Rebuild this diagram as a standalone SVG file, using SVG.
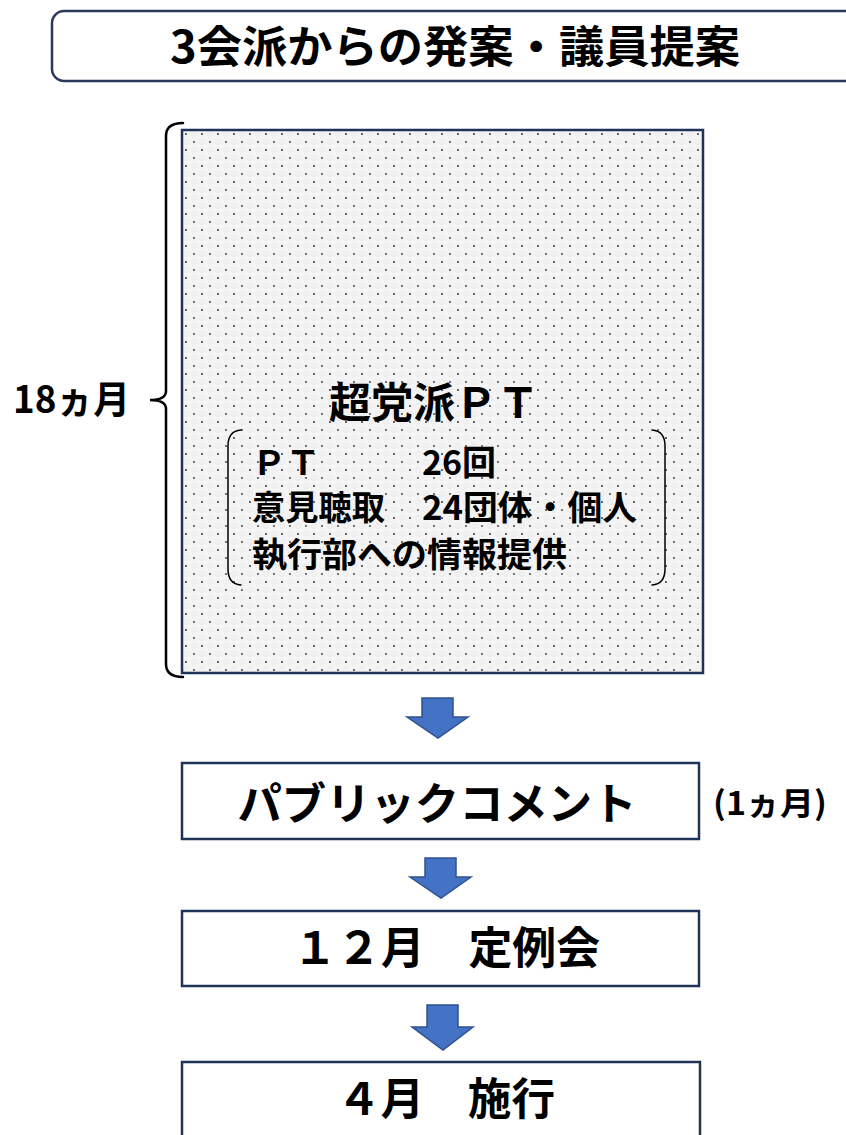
<svg xmlns="http://www.w3.org/2000/svg" width="846" height="1135" viewBox="0 0 846 1135">
<style>
text{font-family:"Noto Sans CJK JP","Noto Sans",sans-serif;font-weight:700;fill:#000}
.box{fill:#fff;stroke:#1F3357;stroke-width:2.5}
.arrow{fill:#4472C4;stroke:#2F528F;stroke-width:1.5}
.brk{fill:none;stroke:#000;stroke-linecap:round}
</style>
<defs>
<pattern id="dots" width="16" height="16" patternUnits="userSpaceOnUse" x="182" y="130">
<rect width="16" height="16" fill="#f4f4f4"/>
<circle cx="4" cy="4" r="1.1" fill="#444"/>
<circle cx="12" cy="12" r="1.1" fill="#555"/>
<circle cx="12" cy="4" r="2.4" fill="none" stroke="#e2e2e2" stroke-width="0.7"/>
<circle cx="4" cy="12" r="2.4" fill="none" stroke="#e2e2e2" stroke-width="0.7"/>
</pattern>
</defs>

<g id="title">
<rect x="52" y="11" width="830" height="70" rx="12" fill="#fff" stroke="#2B3A5C" stroke-width="2.5"/>
<text x="455" y="63" font-size="44" text-anchor="middle" textLength="570" lengthAdjust="spacingAndGlyphs">3会派からの発案・議員提案</text>
</g>

<g id="duration">
<path class="brk" stroke-width="2.5" d="M183,123 Q166,123 166,136 L166,391 Q166,400 150,400 Q166,400 166,409 L166,664 Q166,677 183,677"/>
<text x="13" y="413" font-size="38" textLength="117" lengthAdjust="spacingAndGlyphs">18ヵ月</text>
</g>

<g id="pt">
<rect x="182" y="130" width="521" height="543" fill="url(#dots)" stroke="#1F3357" stroke-width="2.5"/>
<text x="434" y="418" font-size="42" text-anchor="middle" textLength="210" lengthAdjust="spacingAndGlyphs">超党派ＰＴ</text>
<path class="brk" stroke-width="1.5" d="M241,430 Q228,431 228,446 L228,569 Q228,584 241,585"/>
<path class="brk" stroke-width="1.5" d="M652,430 Q665,431 665,446 L665,569 Q665,584 652,585"/>
<text x="252" y="475" font-size="34">ＰＴ</text>
<text x="422" y="475" font-size="34">26回</text>
<text x="252" y="520" font-size="34" textLength="133" lengthAdjust="spacingAndGlyphs">意見聴取</text>
<text x="422" y="520" font-size="34" textLength="215" lengthAdjust="spacingAndGlyphs">24団体・個人</text>
<text x="252" y="567" font-size="34" textLength="315" lengthAdjust="spacingAndGlyphs">執行部への情報提供</text>
</g>

<g id="connectors">
<path class="arrow" d="M422,698 H453 V717 H468 L438,738 L407,717 H422 Z"/>
<path class="arrow" d="M425,858 H456 V877 H471 L441,898 L410,877 H425 Z"/>
<path class="arrow" d="M427,1005 H458 V1027 H473 L443,1050 L412,1027 H427 Z"/>
</g>

<g id="public-comment">
<rect class="box" x="182" y="763" width="517" height="76"/>
<text x="437" y="820" font-size="44" text-anchor="middle" textLength="399" lengthAdjust="spacingAndGlyphs">パブリックコメント</text>
<text x="713" y="815" font-size="32" textLength="114" lengthAdjust="spacingAndGlyphs">(1ヵ月)</text>
</g>

<g id="december">
<rect class="box" x="182" y="911" width="517" height="75"/>
<text x="293" y="964" font-size="44" textLength="307" lengthAdjust="spacingAndGlyphs">１２月　定例会</text>
</g>

<g id="april">
<rect class="box" x="182" y="1062" width="518" height="90"/>
<text x="337" y="1115" font-size="44" textLength="218" lengthAdjust="spacingAndGlyphs">４月　施行</text>
</g>
</svg>
